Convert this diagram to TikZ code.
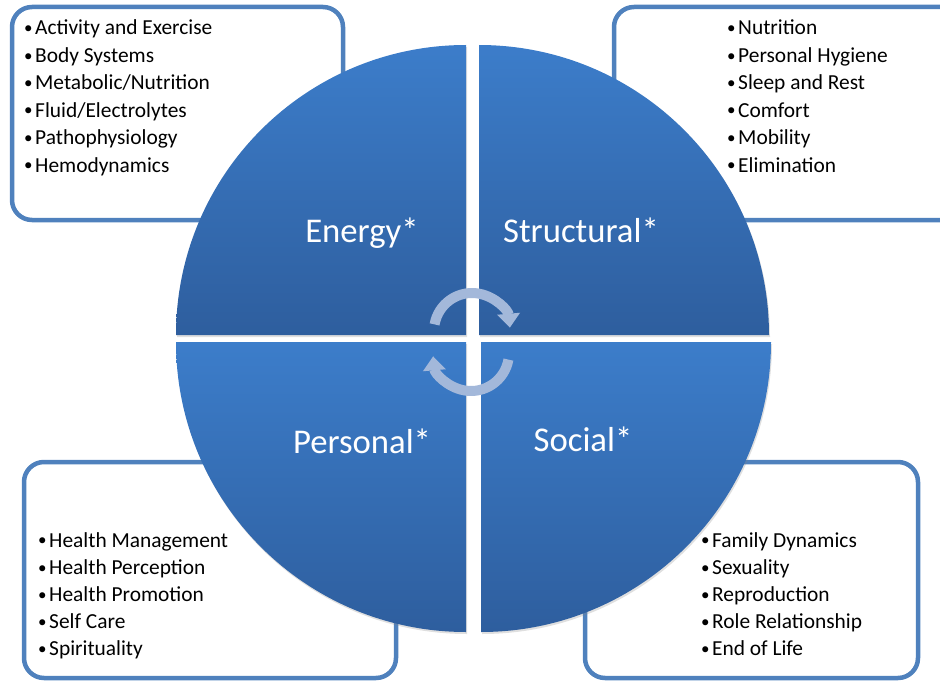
\documentclass[tikz,border=0pt]{standalone}
\usepackage{fontspec}
\setmainfont{Carlito}
\usetikzlibrary{arrows.meta, shadows}
\definecolor{boxline}{RGB}{79,129,189}
\definecolor{quadtop}{RGB}{60,125,202}
\definecolor{quadbot}{RGB}{46,94,158}
\definecolor{cyc}{RGB}{163,184,218}
\tikzstyle{listbox} = [draw=boxline, line width=4.5pt, fill=white, rounded corners=20pt]
\tikzstyle{quad} = [top color=quadtop, bottom color=quadbot, drop shadow={opacity=0.25, shadow xshift=1pt, shadow yshift=-2pt}]
\tikzstyle{qlabel} = [text=white, font=\fontsize{34.7}{40}\selectfont, inner sep=0pt, anchor=base]
\tikzstyle{item} = [font=\fontsize{21.4}{25}\selectfont, inner sep=0pt, anchor=base west]
\tikzstyle{cycarrow} = [draw=cyc, line width=10pt, -{Triangle[length=14pt, width=22pt]}]
\newcommand{\bul}{\makebox[11pt][l]{\raisebox{1.2pt}{\fontsize{17}{17}\selectfont\textbullet}}}

\begin{document}
\begin{tikzpicture}[x=1pt,y=-1pt]
  \useasboundingbox (0,0) rectangle (940,682);

  % boxes behind the circle
  \draw[listbox] (12,7) rectangle (343,220);
  \draw[listbox] (614,7) rectangle (962,220);
  \draw[listbox] (24,462) rectangle (396,678);
  \draw[listbox] (585,462) rectangle (918,678);

  % four quarters
  \path[quad] (466,335) -- (176,335) arc[start angle=180, end angle=270, radius=290] -- cycle;
  \path[quad] (479,335) -- (479,45) arc[start angle=270, end angle=360, radius=290] -- cycle;
  \path[quad] (466,342) -- (176,342) arc[start angle=180, end angle=90, radius=290] -- cycle;
  \path[quad] (481,342) -- (771,342) arc[start angle=0, end angle=90, radius=290] -- cycle;

  \node[qlabel] (energy) at (362,242) {Energy*};
  \node[qlabel] (structural) at (581,242) {Structural*};
  \node[qlabel] (personal) at (362,453) {Personal*};
  \node[qlabel] (social) at (583,451) {Social*};

  % lists
  \foreach \t [count=\i from 0] in {Activity and Exercise, Body Systems, Metabolic/Nutrition, Fluid/Electrolytes, Pathophysiology, Hemodynamics}
    \node[item] (en\i) at (24,35+27.4*\i) {\bul\t};
  \foreach \t [count=\i from 0] in {Nutrition, Personal Hygiene, Sleep and Rest, Comfort, Mobility, Elimination}
    \node[item] (st\i) at (727,35+27.4*\i) {\bul\t};
  \foreach \t [count=\i from 0] in {Health Management, Health Perception, Health Promotion, Self Care, Spirituality}
    \node[item] (pe\i) at (38,547+27.2*\i) {\bul\t};
  \foreach \t [count=\i from 0] in {Family Dynamics, Sexuality, Reproduction, Role Relationship, End of Life}
    \node[item] (so\i) at (701,547+27.2*\i) {\bul\t};

  % cycle arrows
  \coordinate (upc) at (472,331);
  \coordinate (loc) at (471,353);
  \draw[cycarrow] (upc) ++(190:38) arc[start angle=190, end angle=355, radius=38];
  \draw[cycarrow] (loc) ++(10:38) arc[start angle=10, end angle=175, radius=38];
\end{tikzpicture}
\end{document}
